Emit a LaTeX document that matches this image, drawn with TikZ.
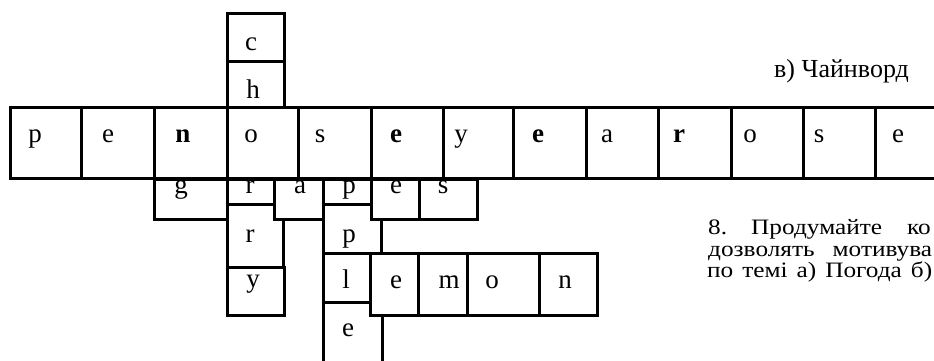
\documentclass[tikz,border=0pt]{standalone}
\usepackage{fontspec}
\setmainfont{Liberation Serif}
\newfontfamily\parafont[FakeStretch=1.15]{Liberation Serif}
\begin{document}
\begin{tikzpicture}[x=1pt,y=-1pt,
  cell/.style={draw=black, fill=white, line width=3pt},
  lt/.style={inner sep=0pt, anchor=base, font=\fontsize{27}{30}\selectfont},
  ltb/.style={inner sep=0pt, anchor=base, font=\fontsize{27}{30}\selectfont\bfseries},
  para/.style={inner sep=0pt, anchor=base west, font=\parafont\fontsize{22}{22}\selectfont},
  ttl/.style={inner sep=0pt, anchor=base west, font=\fontsize{26}{28}\selectfont}]
\useasboundingbox (0,0) rectangle (934,360);
\clip (0,0) rectangle (934,360);
% cherry column lower part
\draw[cell] (227,204) rectangle (283,268);
\draw[cell] (227,267) rectangle (284,315);
\draw[cell] (227,179) rectangle (274,204);
% apple column
\draw[cell] (323,204) rectangle (381,253);
\draw[cell] (323,179) rectangle (371,204);
\draw[cell] (323,302) rectangle (382,370);
\draw[cell] (323,253) rectangle (370,302);
% grapes row
\draw[cell] (154,179) rectangle (227,219);
\draw[cell] (274,179) rectangle (323,219);
\draw[cell] (371,179) rectangle (419,219);
\draw[cell] (419,179) rectangle (477,219);
% lemon row
\draw[cell] (370,253) rectangle (418,315);
\draw[cell] (418,253) rectangle (467,315);
\draw[cell] (467,253) rectangle (539,315);
\draw[cell] (539,253) rectangle (597,315);
% main row
\foreach \a/\b in {10/81,81/154,154/227,227/298,298/371,371/443,443/513,513/586,586/658,658/731,731/803,803/875,875/950}
  \draw[cell] (\a,107) rectangle (\b,178);
% cherry column top
\draw[cell] (227,13) rectangle (284,61);
\draw[cell] (227,61) rectangle (284,107);
% letters
\node[lt] (c1) at (251,50) {c};
\node[lt] (c2) at (253,98) {h};
\node[lt] (m1) at (35,142) {p};
\node[lt] (m2) at (108,142) {e};
\node[ltb] (m3) at (183,142) {n};
\node[lt] (m4) at (251,142) {o};
\node[lt] (m5) at (320,142) {s};
\node[ltb] (m6) at (396,142) {e};
\node[lt] (m7) at (461,142) {y};
\node[ltb] (m8) at (538,142) {e};
\node[lt] (m9) at (607,142) {a};
\node[ltb] (m10) at (679,142) {r};
\node[lt] (m11) at (750,142) {o};
\node[lt] (m12) at (819,142) {s};
\node[lt] (m13) at (898,142) {e};
\node[lt] (g1) at (181,193) {g};
\node[lt] (g2) at (250,193) {r};
\node[lt] (g3) at (300,193) {a};
\node[lt] (g4) at (349,193) {p};
\node[lt] (g5) at (396,193) {e};
\node[lt] (g6) at (443,193) {s};
\node[lt] (c4) at (250,242) {r};
\node[lt] (c5) at (253,287) {y};
\node[lt] (a3) at (349,242) {p};
\node[lt] (a4) at (346,288) {l};
\node[lt] (a5) at (348,336) {e};
\node[lt] (l2) at (396,288) {e};
\node[lt] (l3) at (449,288) {m};
\node[lt] (l4) at (492,288) {o};
\node[lt] (l5) at (565,288) {n};
% texts
\node[ttl] (title) at (774,77) {в) Чайнворд};
\node[para] (p1a) at (708,234) {8.};
\node[para] (p1b) at (751,234) {Продумайте};
\node[para] (p1c) at (907,234) {ко};
\node[para] (p2) at (708,256) {\makebox[224pt][s]{дозволять мотивува}};
\node[para] (p3) at (707,277) {\makebox[225pt][s]{по темі а) Погода б)}};
\end{tikzpicture}
\end{document}
